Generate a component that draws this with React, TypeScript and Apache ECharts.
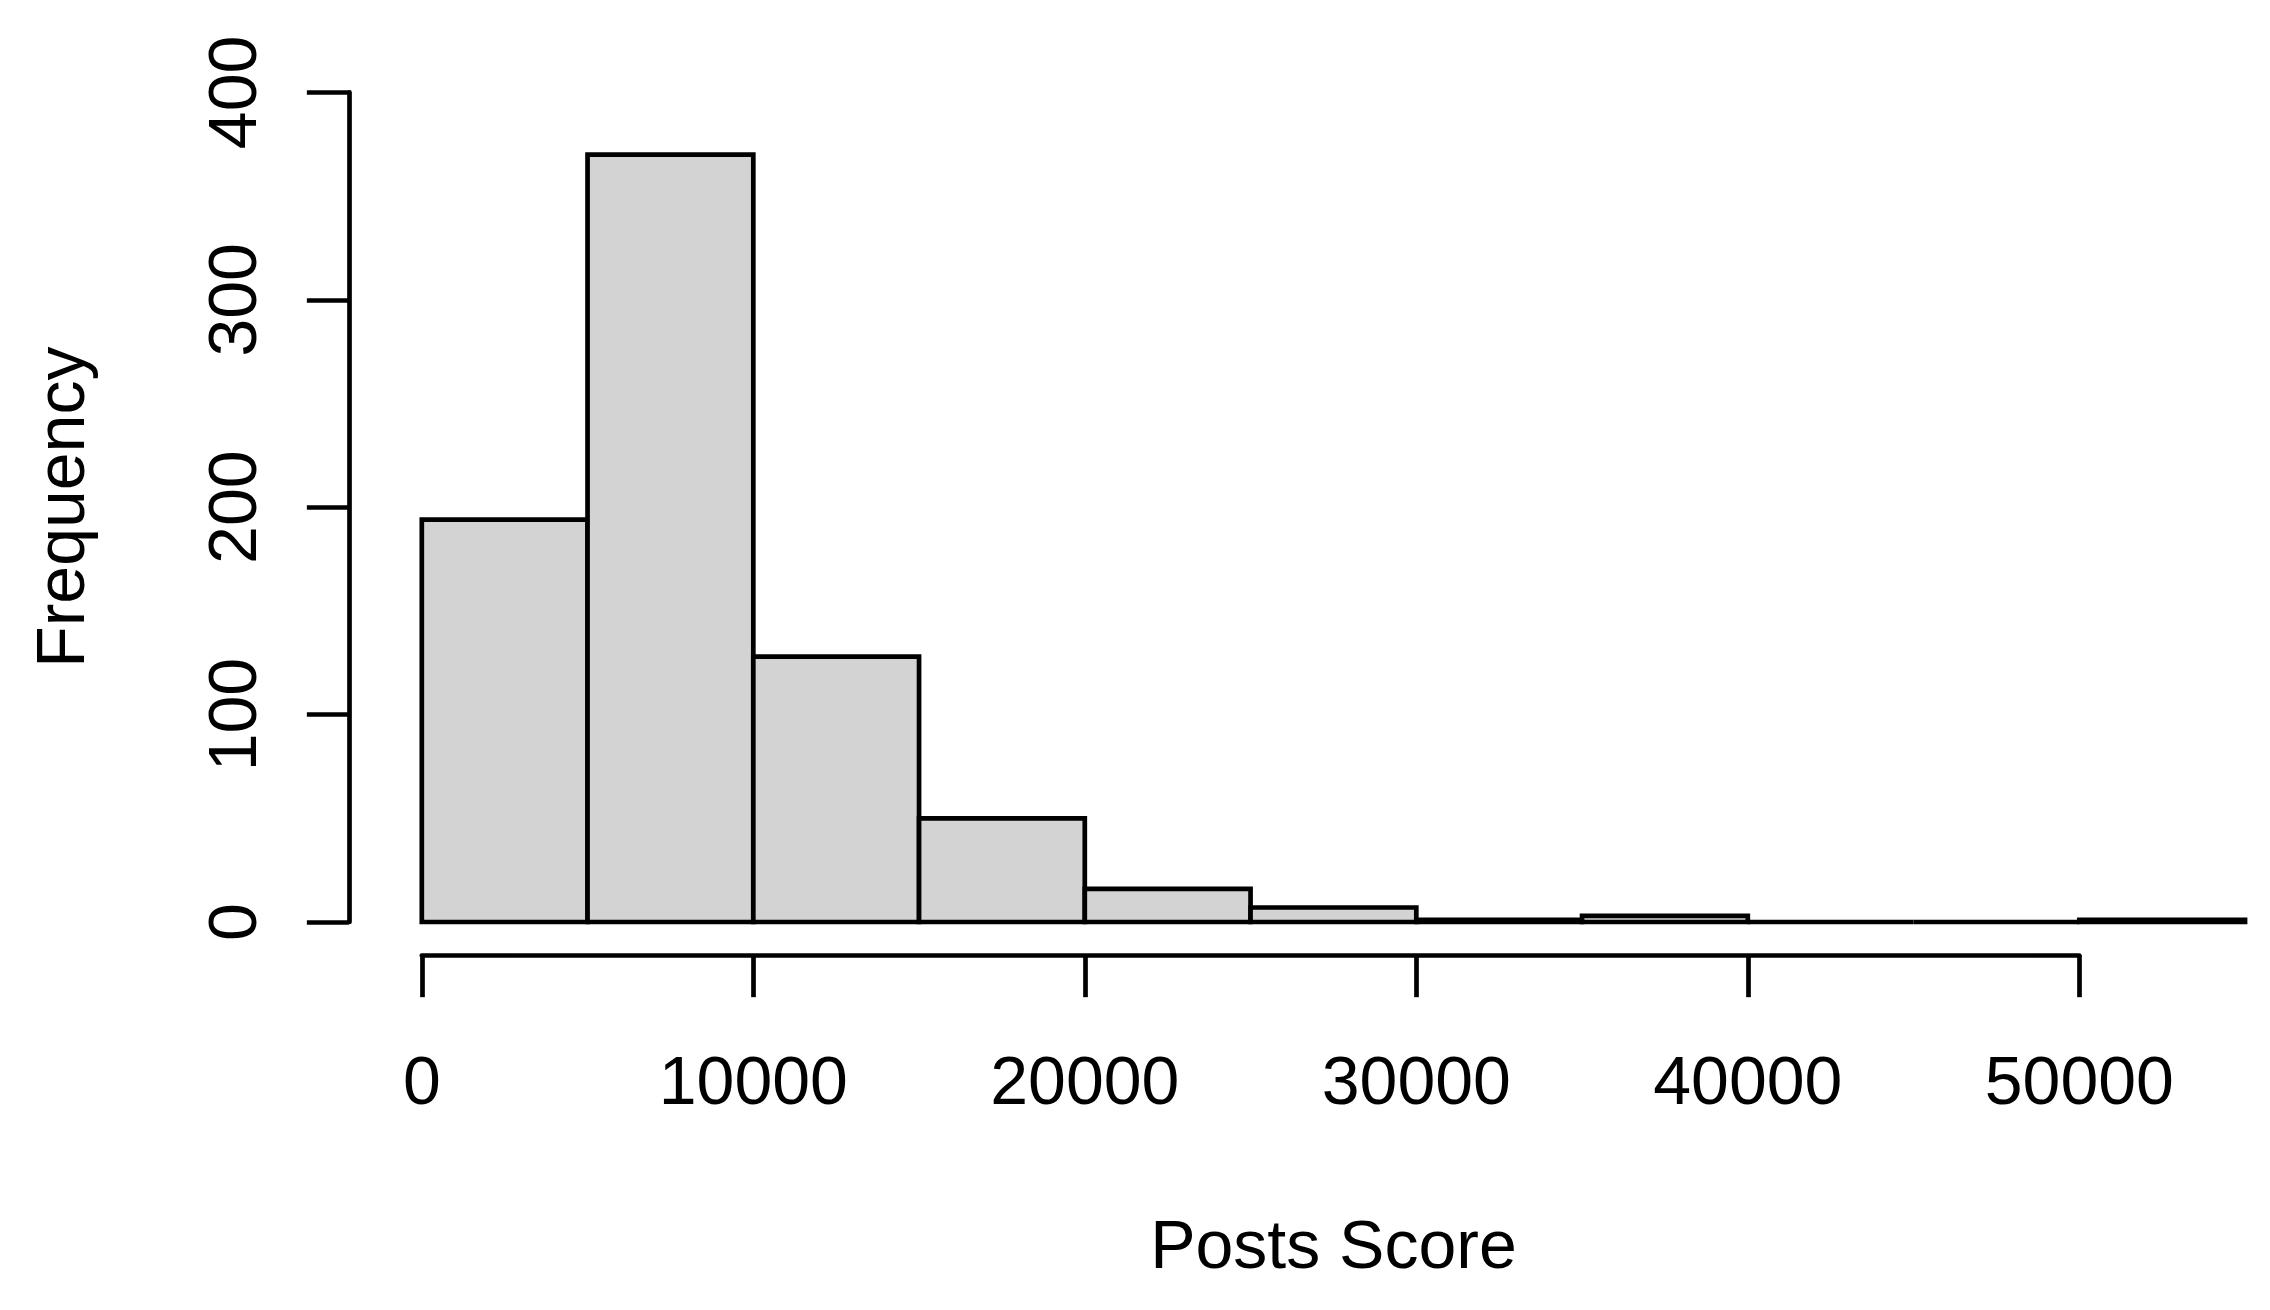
import React, { useEffect, useRef } from "react";
import * as echarts from "echarts";

// Histogram bins (Posts Score) and counts
const binStarts = [0, 5000, 10000, 15000, 20000, 25000, 30000, 35000, 40000, 45000, 50000];
const binEnds = [5000, 10000, 15000, 20000, 25000, 30000, 35000, 40000, 45000, 50000, 55000];
const counts = [194, 370, 128, 50, 16, 7, 1, 3, 0, 0, 1];

const xTickValues = [0, 10000, 20000, 30000, 40000, 50000];
const xTickLabels = ["0", "10000", "20000", "30000", "40000", "50000"];
const yTickValues = [0, 100, 200, 300, 400];
const yTickLabels = ["0", "100", "200", "300", "400"];

const FONT = "'Liberation Sans', Arial, Helvetica, sans-serif";
const FS = 68;
const LW = 4.7;

export default function App() {
  const ref = useRef<HTMLDivElement>(null);
  useEffect(() => {
    if (!ref.current) return;
    const chart = echarts.init(ref.current, undefined, { renderer: "svg" });
    const data = binStarts.map((s, i) => [s, binEnds[i], counts[i]]);
    // scales
    const x0px = 421.8;
    const xs = 0.03315;
    const y0px = 922;
    const ys = 2.074;
    const plotLeft = x0px - 2200 * xs;
    const plotRight = x0px + 57200 * xs;
    const plotTop = y0px - 416 * ys;
    const plotBottom = y0px + 16 * ys;

    chart.setOption({
      animation: false,
      backgroundColor: "#ffffff",
      grid: [
        {
          left: plotLeft,
          top: plotTop,
          width: plotRight - plotLeft,
          height: plotBottom - plotTop,
          containLabel: false,
        },
        {
          left: x0px,
          top: y0px - 400 * ys,
          width: 50000 * xs,
          height: 400 * ys,
          containLabel: false,
        },
      ],
      xAxis: [
        {
          type: "value",
          gridIndex: 0,
          min: -2200,
          max: 57200,
          axisLine: { show: false },
          axisTick: { show: false },
          axisLabel: { show: false },
          splitLine: { show: false },
          name: "Posts Score",
          nameLocation: "middle",
          nameGap: 255,
          nameTextStyle: { fontSize: FS, color: "#000", fontFamily: FONT },
        },
        {
          type: "value",
          gridIndex: 1,
          min: 0,
          max: 50000,
          interval: 10000,
          position: "bottom",
          offset: plotBottom - y0px,
          axisLine: { show: true, onZero: false, lineStyle: { color: "#000", width: LW } },
          axisTick: { show: true, inside: false, length: 42, lineStyle: { color: "#000", width: LW } },
          axisLabel: {
            show: true,
            margin: 91,
            fontSize: FS,
            color: "#000",
            fontFamily: FONT,
            formatter: (v: number) => {
              const i = xTickValues.indexOf(v);
              return i >= 0 ? xTickLabels[i] : "";
            },
          },
          splitLine: { show: false },
        },
      ],
      yAxis: [
        {
          type: "value",
          gridIndex: 0,
          min: -16,
          max: 416,
          axisLine: { show: false },
          axisTick: { show: false },
          axisLabel: { show: false },
          splitLine: { show: false },
          name: "Frequency",
          nameLocation: "middle",
          nameGap: 255,
          nameRotate: 90,
          nameTextStyle: { fontSize: FS, color: "#000", fontFamily: FONT },
        },
        {
          type: "value",
          gridIndex: 1,
          min: 0,
          max: 400,
          interval: 100,
          position: "left",
          offset: x0px - plotLeft,
          axisLine: { show: true, onZero: false, lineStyle: { color: "#000", width: LW } },
          axisTick: { show: true, inside: false, length: 42, lineStyle: { color: "#000", width: LW } },
          axisLabel: {
            show: true,
            rotate: 90,
            margin: 83,
            fontSize: FS,
            color: "#000",
            fontFamily: FONT,
            formatter: (v: number) => {
              const i = yTickValues.indexOf(v);
              return i >= 0 ? yTickLabels[i] : "";
            },
          },
          splitLine: { show: false },
        },
      ],
      series: [
        {
          type: "custom",
          xAxisIndex: 0,
          yAxisIndex: 0,
          clip: false,
          data,
          renderItem: (params: any, api: any) => {
            const a = api.value(0);
            const b = api.value(1);
            const c = api.value(2);
            const p0 = api.coord([a, 0]);
            const p1 = api.coord([b, c]);
            return {
              type: "polygon",
              shape: {
                points: [
                  [p0[0], p0[1]],
                  [p1[0], p0[1]],
                  [p1[0], p1[1]],
                  [p0[0], p1[1]],
                ],
              },
              style: { fill: "#d3d3d3", stroke: "#000", lineWidth: LW, lineJoin: "miter" },
            };
          },
        },
      ],
    });
    return () => chart.dispose();
  }, []);
  return (
    <div
      style={{
        position: "absolute",
        left: 0,
        top: 0,
        width: 2270,
        height: 1310,
        overflow: "hidden",
        background: "#fff",
      }}
    >
      <div ref={ref} style={{ width: 2400, height: 1310, background: "#fff" }} />
    </div>
  );
}
